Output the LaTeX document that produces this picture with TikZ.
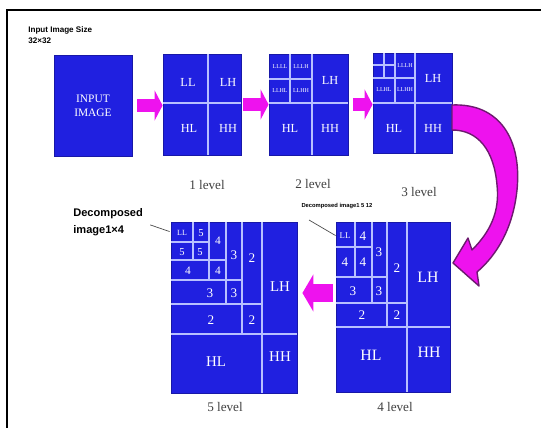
\documentclass[tikz,border=0pt]{standalone}
\usepackage{fontspec}
\setmainfont{Liberation Serif}
\newfontfamily\notefont{Liberation Sans}
\usetikzlibrary{arrows.meta,calc}
\definecolor{dwtblue}{HTML}{2020E0}
\definecolor{dwtline}{HTML}{B8C0FF}
\definecolor{dwtmag}{HTML}{EE12EE}
\definecolor{dwtpurple}{HTML}{6E1A70}

\begin{document}
\begin{tikzpicture}[
    x=0.02cm, y=-0.02cm,
    box/.style={rectangle, draw=dwtblue!75!black, line width=0.5pt, fill=dwtblue, inner sep=0pt},
    grid/.style={draw=dwtline, line width=0.6pt},
    lbl/.style={text=white, font=\fontsize{7}{8}\selectfont, inner sep=0pt},
    big/.style={text=white, font=\fontsize{9}{10}\selectfont, inner sep=0pt},
    num/.style={text=white, font=\fontsize{7.5}{8}\selectfont, inner sep=0pt},
    small/.style={text=white, font=\fontsize{5}{6}\selectfont, inner sep=0pt},
    tiny/.style={text=white, font=\fontsize{3.4}{4}\selectfont, inner sep=0pt},
    levelcap/.style={font=\fontsize{7.5}{9}\selectfont, text=black!75, inner sep=0pt},
    note/.style={font=\notefont\bfseries\fontsize{6.3}{9.5}\selectfont, align=left, inner sep=0pt},
    leader/.style={draw=black!70, line width=0.4pt},
    fatarr/.style={draw=dwtmag, line width=0.26cm, -{Triangle[length=0.16cm,width=0.6cm]}}
]
    \useasboundingbox (0,0) rectangle (541,428);
    % frame
    \draw[line width=1.2pt] (7,428) -- (7,10) -- (541,10);

    % input
    \node[note, anchor=west, font=\notefont\bfseries\fontsize{4.6}{5}\selectfont] (size) at (28,30) {Input Image Size};
    \node[note, anchor=west, font=\notefont\bfseries\fontsize{4.6}{5}\selectfont] (sizeval) at (28,41) {32×32};
    \node[box, minimum width=1.56cm, minimum height=2.02cm] (in) at (93,105.5) {};
    \node[lbl, align=center, font=\fontsize{6.5}{8}\selectfont] at (in) {INPUT\\IMAGE};

    % Level 1
    \node[box, minimum width=1.56cm, minimum height=2.02cm] (l1) at (202,104.5) {};
    \draw[grid] (208,54) -- (208,155) (163,103) -- (241,103);
    \node[lbl] at (188,82) {LL};
    \node[lbl] at (228,82) {LH};
    \node[lbl] at (189,128) {HL};
    \node[lbl] at (228,128) {HH};
    \node[levelcap] (cap1) at (207,185) {1 level};

    % Level 2
    \node[box, minimum width=1.58cm, minimum height=2.02cm] (l2) at (308.5,104.5) {};
    \draw[grid] (312,54) -- (312,155) (269,103) -- (348,103)
        (290,54) -- (290,103) (269,79) -- (312,79);
    \node[tiny] at (280,67) {LLLL};
    \node[tiny] at (301,67) {LLLH};
    \node[tiny] at (280,91) {LLHL};
    \node[tiny] at (301,91) {LLHH};
    \node[lbl] at (330,80) {LH};
    \node[lbl] at (290,128) {HL};
    \node[lbl] at (330,128) {HH};
    \node[levelcap] (cap2) at (313,184) {2 level};

    % Level 3
    \node[box, minimum width=1.58cm, minimum height=2cm] (l3) at (412.5,103) {};
    \draw[grid] (415,53) -- (415,153) (373,103) -- (452,103)
        (395,53) -- (395,103) (373,78) -- (415,78)
        (384,53) -- (384,78) (373,65) -- (395,65);
    \node[tiny] at (405,66) {LLLH};
    \node[tiny] at (384,90) {LLHL};
    \node[tiny] at (405,90) {LLHH};
    \node[lbl] at (433,78) {LH};
    \node[lbl] at (394,128) {HL};
    \node[lbl] at (433,128) {HH};
    \node[levelcap] (cap3) at (419,192) {3 level};

    % Level 4
    \node[box, minimum width=2.28cm, minimum height=3.4cm] (l4) at (393,307) {};
    \draw[grid] (407,222) -- (407,392) (336,327) -- (450,327)
        (355,222) -- (355,277) (336,247) -- (372,247)
        (372,222) -- (372,303) (336,277) -- (387,277)
        (387,222) -- (387,327) (336,303) -- (407,303);
    \node[small] at (345,236) {LL};
    \node[num] at (363,236) {4};
    \node[num] at (345,262) {4};
    \node[num] at (363,262) {4};
    \node[num] at (379,252) {3};
    \node[num] at (353,291) {3};
    \node[num] at (379,291) {3};
    \node[num] at (397,268) {2};
    \node[num] at (362,315) {2};
    \node[num] at (397,315) {2};
    \node[big] at (428,277) {LH};
    \node[big] at (371,355) {HL};
    \node[big] at (429,352) {HH};
    \node[levelcap] (cap4) at (395,407) {4 level};
    \node[note, font=\notefont\bfseries\fontsize{3.3}{4}\selectfont] (dec4) at (337,206) {Decomposed image1 5 12};
    \draw[leader] (309,220) -- ($(l4.north west)+(0,14)$);

    % Level 5
    \node[box, minimum width=2.52cm, minimum height=3.42cm] (l5) at (234,307.5) {};
    \draw[grid] (262,222) -- (262,393) (171,334) -- (297,334)
        (193,222) -- (193,260) (171,242) -- (209,242)
        (209,222) -- (209,280) (171,260) -- (226,260)
        (226,222) -- (226,304) (171,280) -- (242,280)
        (242,222) -- (242,334) (171,304) -- (262,304);
    \node[tiny, font=\fontsize{4.5}{5}\selectfont] at (182,233) {LL};
    \node[small, font=\fontsize{6}{7}\selectfont] at (201,233) {5};
    \node[small, font=\fontsize{6}{7}\selectfont] at (182,252) {5};
    \node[small, font=\fontsize{6}{7}\selectfont] at (200,252) {5};
    \node[num, font=\fontsize{6.5}{7}\selectfont] at (218,241) {4};
    \node[num, font=\fontsize{6.5}{7}\selectfont] at (188,271) {4};
    \node[num, font=\fontsize{6.5}{7}\selectfont] at (218,271) {4};
    \node[num] at (234,255) {3};
    \node[num] at (210,293) {3};
    \node[num] at (234,293) {3};
    \node[num] at (252,258) {2};
    \node[num] at (211,320) {2};
    \node[num] at (252,320) {2};
    \node[big, font=\fontsize{8.5}{9}\selectfont] at (280,287) {LH};
    \node[big, font=\fontsize{8.5}{9}\selectfont] at (216,362) {HL};
    \node[big, font=\fontsize{8.5}{9}\selectfont] at (280,357) {HH};
    \node[levelcap] (cap5) at (225,407) {5 level};
    \node[note, anchor=north west] (dec5) at (73,208) {Decomposed\\image1×4};
    \draw[leader] ($(dec5.east)+(7,3)$) -- ($(l5.north west)+(-1,10)$);

    % arrows
    \draw[fatarr, shorten <=0.1cm] (in.east) -- (in.east -| l1.west);
    \draw[fatarr, shorten <=0.04cm] (l1.east) -- (l1.east -| l2.west);
    \draw[fatarr, shorten <=0.1cm] (l2.east) -- (l2.east -| l3.west);
    \coordinate (a45) at ($(l4.west)+(0,-14)$);
    \draw[fatarr, line width=0.36cm, -{Triangle[length=0.22cm,width=0.74cm]},
        shorten <=0.06cm, shorten >=0.1cm] (a45) -- (a45 -| l5.east);

    % curved arrow 3 -> 4
    \filldraw[fill=dwtmag, draw=dwtpurple, line width=0.8pt, line join=round]
        (452,105) .. controls (500,103) and (522,140) .. (517,190)
        .. controls (513,228) and (497,255) .. (477,272)
        -- (479,286) -- (453,263) -- (468,238) -- (472,250)
        .. controls (490,232) and (500,212) .. (497,185)
        .. controls (494,150) and (478,130) .. (452,130) -- cycle;
\end{tikzpicture}
\end{document}
